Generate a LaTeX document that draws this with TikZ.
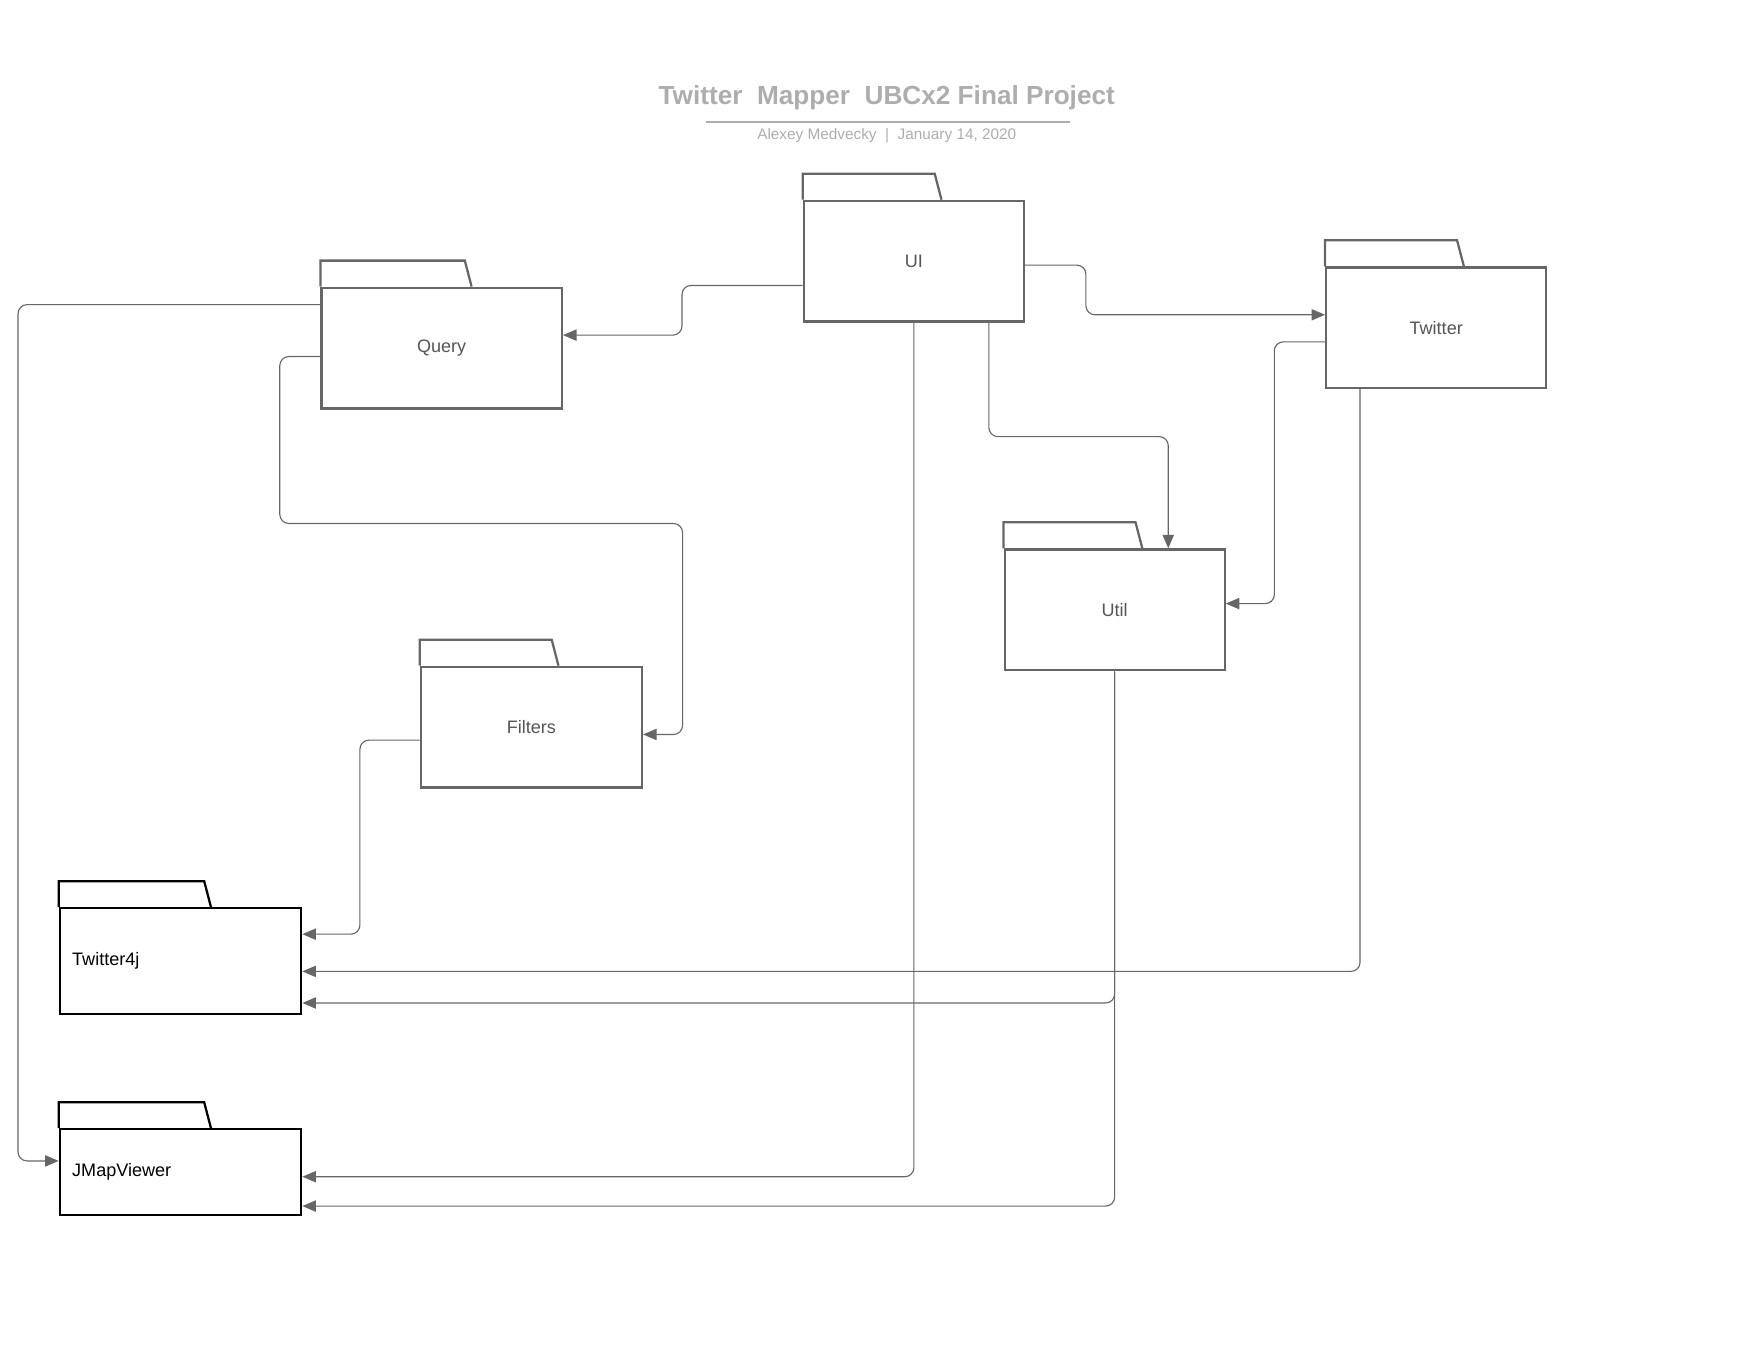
\documentclass[tikz,border=0pt]{standalone}
\usepackage{fontspec}
\setmainfont{Liberation Sans}
\usepackage{tikz}
\usetikzlibrary{positioning, arrows.meta, calc}
\definecolor{pkgline}{HTML}{666666}
\definecolor{pkgtext}{HTML}{555555}
\definecolor{titlegray}{HTML}{ADADAD}
\tikzset{
    x=0.5pt, y=-0.5pt, % one unit is one pixel of the layout, y runs down
    package/.style={draw=pkgline, line width=1pt, text=pkgtext, font=\fontsize{8}{10}\selectfont,
        minimum width=97.5pt, minimum height=53.5pt, inner sep=0pt}, % a package body
    extlib/.style={package, draw=black, text=black, text width=96pt, align=left, inner xsep=5.5pt,
        minimum width=107pt}, % an outside library, label on the left
    tab/.style={line width=1pt}, % the small tab on top of a package
    dep/.style={draw=pkgline, line width=0.5pt, rounded corners=4pt,
        -{Triangle[length=6pt, width=5pt]}}, % a dependency
}

\begin{document}
\begin{tikzpicture}
    \useasboundingbox (0,0) rectangle (1560,1206);
    % title block
    \node[text=titlegray, font=\fontsize{11.6}{14}\selectfont\bfseries] (title) at (786,87) {Twitter~~Mapper~~UBCx2 Final Project};
    \node[text=titlegray, font=\fontsize{6.8}{8}\selectfont] (subtitle) at (786,120) {Alexey Medvecky~~|~~January 14, 2020};
    \draw[titlegray, line width=0.8pt] ($(title.south)+(-160,3)$) -- ++(322,0);

    % packages
    \node[package] (ui) at (810,231.5) {UI};
    \node[package, minimum width=106.5pt] (query) at (391.5,308.5) {Query};
    \node[package] (twitter) at (1273,290.5) {Twitter};
    \node[package] (util) at (988,540.5) {Util};
    \node[package, minimum width=98pt] (filters) at (471,644.5) {Filters};
    \node[extlib, minimum height=47pt] (twitter4j) at (160,852) {Twitter4j};
    \node[extlib, minimum height=38pt] (jmap) at (160,1039) {JMapViewer};

    % tabs
    \foreach \n/\w/\c in {ui/117/pkgline, query/128/pkgline, twitter/117/pkgline, util/117/pkgline,
        filters/117/pkgline, twitter4j/129/black, jmap/129/black}
        \draw[tab, draw=\c] (\n.north west) -- ++(0,-23) -- ++(\w,0) -- ++(6,23);

    % dependencies
    \draw[dep] ($(ui.west)+(0,21.5)$) -- ++(-107,0) |- ($(query.east)+(0,-11.5)$);
    \draw[dep] ($(ui.east)+(0,3.5)$) -- ++(54,0) |- ($(twitter.west)+(0,-11.5)$);
    \draw[dep] ($(ui.south)+(66.5,0)$) -- ++(0,101) -| ($(util.north)+(47.5,0)$);
    \draw[dep] ($(twitter.west)+(0,12.5)$) -- ++(-45,0) |- ($(util.east)+(0,-5.5)$);
    \draw[dep] ($(query.west)+(0,-38.5)$) -- ++(-268,0) |- ($(jmap.west)+(0,-10)$);
    \draw[dep] ($(query.west)+(0,7.5)$) -- ++(-36,0) -- ++(0,148) -- ++(357,0) |- ($(filters.east)+(0,6.5)$);
    \draw[dep] ($(filters.west)+(0,11.5)$) -- ++(-53,0) |- ($(twitter4j.east)+(0,-24)$);
    \draw[dep] ($(twitter.south)+(-67.5,0)$) |- ($(twitter4j.east)+(0,9)$);
    \draw[dep] (util.south) |- ($(twitter4j.east)+(0,37)$);
    \draw[dep] (ui.south) |- ($(jmap.east)+(0,4)$);
    \draw[dep] (util.south) |- ($(jmap.east)+(0,30)$);
\end{tikzpicture}
\end{document}
